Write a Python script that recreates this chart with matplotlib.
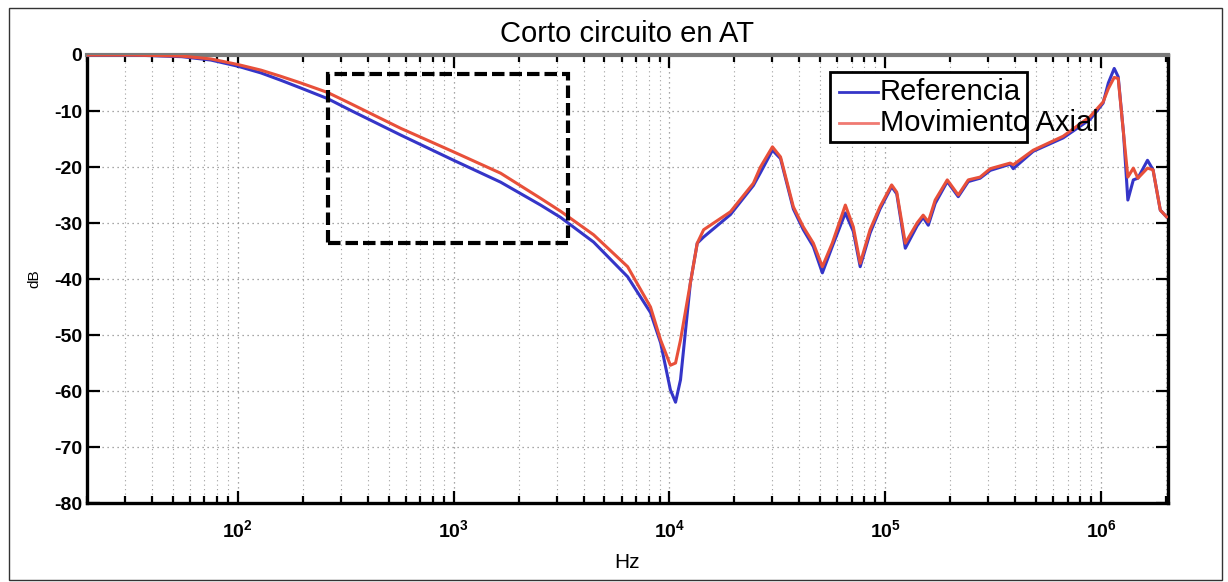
import matplotlib
matplotlib.use("Agg")
import matplotlib.pyplot as plt
from matplotlib.patches import Rectangle
from matplotlib.ticker import LogLocator, FixedLocator

plt.rcParams["font.family"] = ["Liberation Sans Narrow", "Liberation Sans", "DejaVu Sans"]
plt.rcParams["mathtext.default"] = "regular"

# frequency points (Hz)
freq = [20, 32, 55, 75, 100, 128, 158, 196, 261, 334, 569, 1000, 1650, 2530, 3130,
        4450, 6400, 8170, 9100, 10100, 10670, 11250, 12500, 13450, 14400, 19160,
        24480, 26400, 30000, 32700, 37500, 41700, 46400, 51100, 56800, 65300, 71100,
        76500, 85000, 94500, 107000, 113000, 123800, 140400, 149800, 158200, 170300,
        193700, 217800, 242400, 275000, 306400, 379000, 391600, 484500, 667100,
        889000, 1021000, 1080000, 1150000, 1200000, 1270000, 1330000, 1410000,
        1480000, 1640000, 1740000, 1880000, 2010000]
referencia = [0, 0, -0.3, -0.9, -2.0, -3.2, -4.5, -5.9, -7.8, -9.9, -14.3, -18.8, -22.7,
              -26.8, -29.0, -33.4, -39.6, -46.0, -51.4, -59.8, -62.0, -58.0, -40.7, -33.6,
              -32.5, -28.5, -23.3, -21.0, -17.0, -18.5, -27.5, -31.2, -34.2, -38.9, -34.2,
              -28.2, -31.5, -37.8, -31.8, -27.5, -23.5, -24.8, -34.5, -30.5, -29.0, -30.4,
              -26.5, -22.6, -25.3, -22.6, -22.0, -20.6, -19.5, -20.3, -17.2, -14.8, -11.5,
              -8.6, -5.0, -2.4, -3.9, -14.0, -25.9, -22.3, -22.0, -18.8, -20.5, -27.7, -28.9]
mov_axial = [0, 0, -0.2, -0.7, -1.7, -2.7, -3.8, -5.0, -6.7, -8.7, -13.1, -17.3, -21.1,
             -25.6, -27.9, -32.1, -37.8, -45.0, -50.9, -55.4, -55.0, -50.9, -40.7, -33.6,
             -31.2, -28.0, -22.9, -20.0, -16.4, -18.2, -27.1, -30.7, -33.6, -37.8, -33.6,
             -26.8, -30.7, -37.2, -31.2, -27.1, -23.2, -24.5, -33.6, -30.0, -28.6, -29.8,
             -25.9, -22.3, -25.0, -22.3, -21.8, -20.3, -19.3, -19.6, -17.0, -14.5, -11.0,
             -8.4, -6.0, -4.0, -4.2, -14.0, -21.8, -20.2, -22.0, -20.2, -20.5, -27.7, -28.9]

# zoomed region marked with the dashed box
box_freq = (261, 3400)
box_db = (-33.6, -3.4)

yticks = [0, -10, -20, -30, -40, -50, -60, -70, -80]

fig = plt.figure(figsize=(12.28, 5.82), dpi=100)
ax = fig.add_axes([0.0708, 0.1357, 0.8803, 0.7698])

ax.plot(freq, referencia, color="#3535c8", lw=2.2, label="Referencia", zorder=3)
ax.plot(freq, mov_axial, color="#e8503a", lw=2.2, label="Movimiento Axial", zorder=3)

ax.add_patch(Rectangle((box_freq[0], box_db[0]), box_freq[1] - box_freq[0],
                       box_db[1] - box_db[0], fill=False, ec="black", lw=3,
                       ls=(0, (3, 1.2)), zorder=4))

ax.set_xscale("log")
ax.set_xlim(20, 2.04e6)
ax.set_ylim(-80, 0)
ax.xaxis.set_major_locator(LogLocator(base=10))
ax.xaxis.set_minor_locator(LogLocator(base=10, subs=range(2, 10)))
ax.yaxis.set_major_locator(FixedLocator(yticks))
ax.set_yticklabels([str(v) for v in yticks])

ax.grid(True, which="major", color="#8a8a8a", ls=(0, (1, 3)), lw=0.9)
ax.grid(True, which="minor", axis="x", color="#a0a0a0", ls=(0, (1, 3)), lw=0.8)

ax.tick_params(which="both", direction="in", top=True, right=True, width=1.6)
ax.tick_params(which="major", length=9, labelsize=14)
ax.tick_params(which="minor", length=5)
ax.tick_params(axis="x", which="major", pad=12)
for lab in ax.get_xticklabels() + ax.get_yticklabels():
    lab.set_fontweight("bold")

for side in ["left", "bottom", "right"]:
    ax.spines[side].set_linewidth(2.4)
    ax.spines[side].set_color("black")
ax.spines["top"].set_linewidth(3)
ax.spines["top"].set_color("#7a7a7a")

ax.set_title("Corto circuito en AT", fontsize=21, pad=9)
ax.set_xlabel("Hz", fontsize=15, labelpad=8)
ax.set_ylabel("dB", fontsize=11, labelpad=9)

# legend drawn as in the original (text spills past the box)
ax.add_patch(Rectangle((0.687, 0.806), 0.183, 0.156, transform=ax.transAxes,
                       fc="white", ec="black", lw=2, zorder=5))
for ly, lc, name in [(0.917, "#3535c8", "Referencia"), (0.848, "#f07a72", "Movimiento Axial")]:
    ax.plot([0.696, 0.732], [ly, ly], transform=ax.transAxes, color=lc, lw=2, zorder=6)
    ax.text(0.7336, ly, name, transform=ax.transAxes, fontsize=21, va="center",
            ha="left", zorder=6)

fig.patches.append(Rectangle((0.007, 0.004), 0.988, 0.982, transform=fig.transFigure,
                             fill=False, ec="#333333", lw=1))

fig.savefig("out.png", dpi=100)
